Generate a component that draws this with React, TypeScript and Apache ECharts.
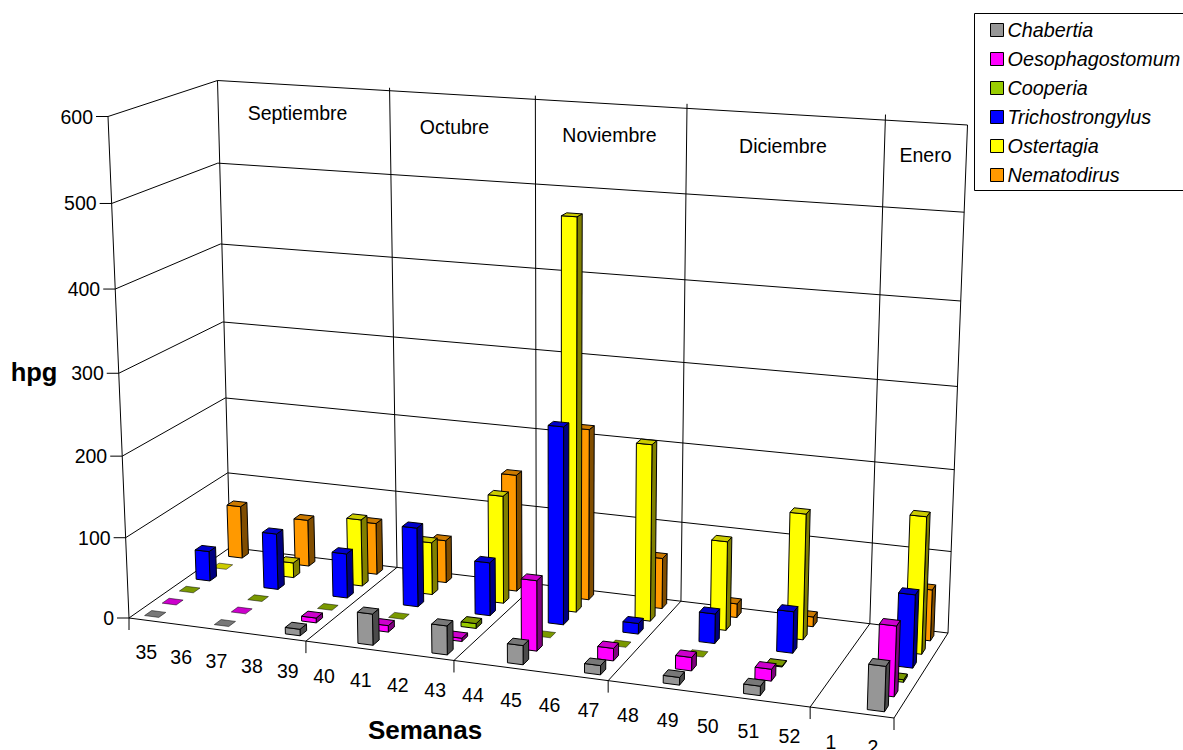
import React, { useEffect, useRef } from "react";
import * as echarts from "echarts";

const weeks = ["35","36","37","38","39","40","41","42","43","44","45","46","47","48","49","50","51","52","1","2"];
const speciesNames = ["Chabertia","Oesophagostomum","Cooperia","Trichostrongylus","Ostertagia","Nematodirus"];

// hpg per week; null marks a week without a sample
const chabertia =        [0,null,0,null,8,null,38,null,35,null,23,null,11,null,9,null,11,null,null,52];
const oesophagostomum =  [0,null,0,null,6,null,8,null,4,null,85,null,15,null,16,null,14,null,null,82];
const cooperia =         [0,null,0,null,0,null,0,null,6,null,0,null,0,null,0,null,1,null,null,3];
const trichostrongylus = [38,null,71,null,56,null,99,null,66,null,243,null,13,null,36,null,50,null,null,87];
const ostertagia =       [0,null,19,null,85,null,66,null,135,null,481,null,218,null,109,null,153,null,null,165];
const nematodirus =      [68,null,60,null,66,null,54,null,148,null,215,null,63,null,17,null,12,null,null,62];
const speciesValues = [chabertia, oesophagostomum, cooperia, trichostrongylus, ostertagia, nematodirus];

const yTicks = [0, 100, 200, 300, 400, 500, 600];
const months = ["Septiembre", "Octubre", "Noviembre", "Diciembre", "Enero"];
const monthEnds = [5, 9, 13, 18, 20];

// front, top and side shades of each species
const frontColors = ["#969696", "#ff00ff", "#99cc00", "#0000ff", "#ffff00", "#ff9900"];
const topColors = ["#787878", "#cc00cc", "#7a9900", "#0000cc", "#cccc00", "#cc7a00"];
const sideColors = ["#4b4b4b", "#800080", "#4d6600", "#000080", "#808000", "#804d00"];

// Screen corners of the chart box
const FL = [129, 618], FR = [894, 718], BR = [948, 633], BL = [230, 547.5];
const TFL = [108, 116.5], TBL = [217.5, 80.5], TBR = [967.5, 125];

// Floor homography from the unit square
function buildProjection() {
  const dx1 = FR[0] - BR[0], dx2 = BL[0] - BR[0], sx = FL[0] - FR[0] + BR[0] - BL[0];
  const dy1 = FR[1] - BR[1], dy2 = BL[1] - BR[1], sy = FL[1] - FR[1] + BR[1] - BL[1];
  const den = dx1 * dy2 - dx2 * dy1;
  const g = (sx * dy2 - dx2 * sy) / den;
  const h = (dx1 * sy - sx * dy1) / den;
  const a = FR[0] - FL[0] + g * FR[0], b = BL[0] - FL[0] + h * BL[0], c = FL[0];
  const d = FR[1] - FL[1] + g * FR[1], e = BL[1] - FL[1] + h * BL[1], f = FL[1];
  // Vertical term, fitted to the two remaining top corners
  let sAB = 0, sAA = 0;
  const fit = (p: number[], u: number, v: number) => {
    const w = g * u + h * v + 1;
    [[p[0], TFL[0], a * u + b * v + c, c], [p[1], TFL[1], d * u + e * v + f, f]].forEach(([pt, t, n, o]) => {
      const A = pt - t;
      const B = n + t - o - pt * w;
      sAB += A * B;
      sAA += A * A;
    });
  };
  fit(TBL, 0, 1);
  fit(TBR, 1, 1);
  const k = sAB / sAA;
  const cx = TFL[0] * (k + 1) - c;
  const cy = TFL[1] * (k + 1) - f;
  return (u: number, v: number, z: number): number[] => {
    // Heights bow slightly towards the back wall
    const zz = z - 0.065 * v * z * z * (1 - z);
    const w = g * u + h * v + k * zz + 1;
    return [(a * u + b * v + cx * zz + c) / w, (d * u + e * v + cy * zz + f) / w];
  };
}
const project = buildProjection();

// The hidden axes span a plain box of this size, so their pixels read as fractions
const SCALE_W = 1000, SCALE_H = 600;
const BAR_W = 0.41, BAR_D = 0.4;

function barRenderer(slot: number) {
  return (_params: any, api: any) => {
    const value = api.value(1);
    const pos = api.coord([api.value(0), value]);
    const band = api.size([1, 0])[0];
    const uc = pos[0] / SCALE_W, du = (band * BAR_W) / 2 / SCALE_W;
    const z = (SCALE_H - pos[1]) / SCALE_H;
    const u0 = uc - du, u1 = uc + du;
    const v0 = (slot + 0.5 - BAR_D / 2) / 6, v1 = (slot + 0.5 + BAR_D / 2) / 6;
    const lw = value === 0 ? 0.5 : 1;
    const face = (pts: number[][], fill: string) => ({
      type: "polygon",
      shape: { points: pts },
      style: { fill, stroke: "#000", lineWidth: lw, lineJoin: "round" },
    });
    const children: any[] = [];
    if (value > 0) {
      children.push(face([project(u1, v0, 0), project(u1, v1, 0), project(u1, v1, z), project(u1, v0, z)], sideColors[slot]));
      children.push(face([project(u0, v0, 0), project(u1, v0, 0), project(u1, v0, z), project(u0, v0, z)], frontColors[slot]));
    }
    children.push(face([project(u0, v0, z), project(u1, v0, z), project(u1, v1, z), project(u0, v1, z)], topColors[slot]));
    return { type: "group", children };
  };
}

function line(p: number[], q: number[], color = "#000", width = 1) {
  return {
    type: "line",
    silent: true,
    shape: { x1: p[0], y1: p[1], x2: q[0], y2: q[1] },
    style: { stroke: color, lineWidth: width },
  };
}

function label(text: string, x: number, y: number, size: number, extra: any = {}) {
  return {
    type: "text",
    silent: true,
    x,
    y,
    style: {
      text,
      fill: "#000",
      font: `${extra.weight || "normal"} ${size}px "Liberation Sans", Arial, sans-serif`,
      textAlign: extra.align || "center",
      textVerticalAlign: "middle",
    },
  };
}

function chartFurniture() {
  const els: any[] = [];
  // Walls and floor outline
  els.push(line(FL, FR), line(FR, BR), line(BR, BL), line(BL, FL));
  els.push(line(FL, TFL), line(TFL, TBL), line(TBL, BL), line(TBL, TBR), line(TBR, BR));
  yTicks.forEach((t) => {
    const z = t / 600;
    const front = project(0, 0, z), back = project(0, 1, z), right = project(1, 1, z);
    if (t > 0 && t < 600) els.push(line(front, back), line(back, right));
    els.push(line([front[0] - 12, front[1]], front));
    els.push(label(String(t), front[0] - 15, front[1], 19.5, { align: "right" }));
  });
  // Month dividers across floor and back wall
  monthEnds.forEach((n) => {
    const u = n / weeks.length;
    const f = project(u, 0, 0);
    els.push(line(f, [f[0], f[1] + 12]));
    if (n < weeks.length) {
      els.push(line(f, project(u, 1, 0)), line(project(u, 1, 0), project(u, 1, 1)));
    }
  });
  els.push(line(FL, [FL[0], FL[1] + 12]));
  weeks.forEach((w, i) => {
    const p = project((i + 0.5) / weeks.length, 0, 0);
    els.push(label(w, p[0], p[1] + 32, 19.5));
  });
  const monthX = [297.5, 454.5, 609.5, 783, 925.5];
  const monthY = [113, 127, 135, 146, 155];
  months.forEach((m, i) => els.push(label(m, monthX[i], monthY[i], 19.5)));
  els.push(label("hpg", 34, 372, 25.5, { weight: "bold" }));
  els.push(label("Semanas", 425, 730, 26, { weight: "bold" }));
  // Legend frame runs off the right edge of the page
  els.push({
    type: "rect",
    silent: true,
    shape: { x: 974.5, y: 13.5, width: 240, height: 177 },
    style: { fill: "#fff", stroke: "#000", lineWidth: 1 },
  });
  return els;
}

export default function App() {
  const ref = useRef<HTMLDivElement>(null);
  useEffect(() => {
    const chart = echarts.init(ref.current!, null, { renderer: "svg" });
    chart.setOption({
      animation: false,
      backgroundColor: "#fff",
      grid: { left: 0, top: 0, width: SCALE_W, height: SCALE_H },
      xAxis: { type: "category", data: weeks, show: false },
      yAxis: { type: "value", min: 0, max: 600, interval: 100, show: false },
      legend: {
        orient: "vertical",
        left: 990,
        top: 20,
        padding: 0,
        itemWidth: 13,
        itemHeight: 13,
        itemGap: 9,
        data: speciesNames,
        icon: "rect",
        selectedMode: false,
        z: 20,
        itemStyle: { borderColor: "#000", borderWidth: 1 },
        textStyle: {
          color: "#000",
          fontStyle: "italic",
          fontFamily: '"Liberation Sans", Arial, sans-serif',
          fontSize: 19.8,
          padding: [0, 0, 0, -1],
        },
      },
      graphic: { elements: chartFurniture() },
      // Nearer species sit on higher z so they cover those behind
      series: speciesNames.map((name, slot) => ({
        name,
        type: "custom",
        z: 10 - slot,
        silent: true,
        clip: false,
        itemStyle: { color: frontColors[slot] },
        encode: { x: 0, y: 1 },
        renderItem: barRenderer(slot),
        data: speciesValues[slot]
          .map((v, i) => [i, v])
          .filter((d) => d[1] !== null),
      })),
    });
    return () => chart.dispose();
  }, []);
  return <div ref={ref} style={{ position: "fixed", left: 0, top: 0, width: 1183, height: 750 }} />;
}
